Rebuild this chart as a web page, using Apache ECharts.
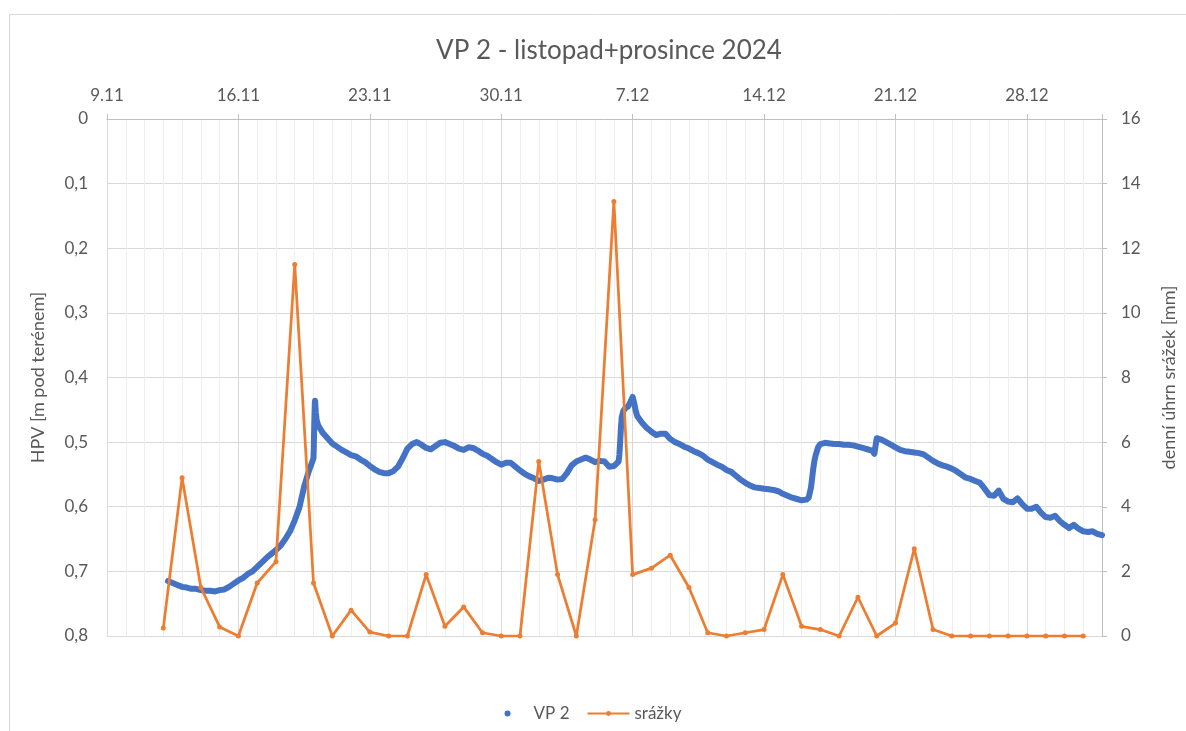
<!DOCTYPE html>
<html>
<head>
<meta charset="utf-8">
<script src="https://cdn.jsdelivr.net/npm/echarts@6/dist/echarts.min.js"></script>
<style>
  html, body { margin: 0; padding: 0; background: #fff; }
  #myChart { width: 1186px; height: 731px; }
</style>
</head>
<body>
<div id="myChart"></div>
<script>
// hladina VP 2 [m pod terénem], čas 'D.M HH:MM'
const vp2Readings = [
  ['12.11 06:00', 0.715], ['12.11 12:00', 0.718], ['12.11 18:00', 0.721],
  ['13.11 00:00', 0.724], ['13.11 06:00', 0.725], ['13.11 12:00', 0.727], ['13.11 18:00', 0.727],
  ['14.11 00:00', 0.729], ['14.11 06:00', 0.730], ['14.11 12:00', 0.730], ['14.11 18:00', 0.731],
  ['15.11 00:00', 0.729], ['15.11 06:00', 0.728], ['15.11 12:00', 0.724], ['15.11 18:00', 0.719],
  ['16.11 00:00', 0.714], ['16.11 06:00', 0.710], ['16.11 12:00', 0.704], ['16.11 18:00', 0.700],
  ['17.11 00:00', 0.693], ['17.11 06:00', 0.686], ['17.11 12:00', 0.679], ['17.11 18:00', 0.673],
  ['18.11 00:00', 0.667], ['18.11 06:00', 0.660], ['18.11 12:00', 0.650], ['18.11 18:00', 0.638],
  ['19.11 00:00', 0.621], ['19.11 06:00', 0.601], ['19.11 12:00', 0.569], ['19.11 18:00', 0.545],
  ['20.11 00:00', 0.525], ['20.11 00:20', 0.510], ['20.11 00:40', 0.490], ['20.11 01:00', 0.470],
  ['20.11 01:20', 0.455], ['20.11 01:40', 0.440], ['20.11 02:00', 0.436], ['20.11 02:30', 0.445],
  ['20.11 03:00', 0.455], ['20.11 04:00', 0.466], ['20.11 06:00', 0.474], ['20.11 09:00', 0.480],
  ['20.11 12:00', 0.486], ['20.11 18:00', 0.494],
  ['21.11 00:00', 0.502], ['21.11 06:00', 0.507], ['21.11 12:00', 0.512], ['21.11 18:00', 0.516],
  ['22.11 00:00', 0.520], ['22.11 06:00', 0.522], ['22.11 12:00', 0.527], ['22.11 18:00', 0.531],
  ['23.11 00:00', 0.537], ['23.11 06:00', 0.542], ['23.11 12:00', 0.546], ['23.11 18:00', 0.548],
  ['24.11 00:00', 0.548], ['24.11 06:00', 0.545], ['24.11 12:00', 0.538], ['24.11 18:00', 0.525],
  ['25.11 00:00', 0.510], ['25.11 06:00', 0.503], ['25.11 12:00', 0.500], ['25.11 18:00', 0.504],
  ['26.11 00:00', 0.509], ['26.11 06:00', 0.511], ['26.11 12:00', 0.506], ['26.11 18:00', 0.501],
  ['27.11 00:00', 0.500], ['27.11 06:00', 0.503], ['27.11 12:00', 0.506], ['27.11 18:00', 0.510],
  ['28.11 00:00', 0.512], ['28.11 06:00', 0.508], ['28.11 12:00', 0.509], ['28.11 18:00', 0.513],
  ['29.11 00:00', 0.518], ['29.11 06:00', 0.521], ['29.11 12:00', 0.526], ['29.11 18:00', 0.531],
  ['30.11 00:00', 0.535], ['30.11 06:00', 0.532], ['30.11 12:00', 0.532], ['30.11 18:00', 0.538],
  ['1.12 00:00', 0.544], ['1.12 06:00', 0.549], ['1.12 12:00', 0.553], ['1.12 18:00', 0.556],
  ['2.12 00:00', 0.560], ['2.12 06:00', 0.558], ['2.12 12:00', 0.555], ['2.12 18:00', 0.556],
  ['3.12 00:00', 0.558], ['3.12 06:00', 0.557], ['3.12 12:00', 0.548], ['3.12 18:00', 0.536],
  ['4.12 00:00', 0.530], ['4.12 06:00', 0.527], ['4.12 12:00', 0.524], ['4.12 18:00', 0.527],
  ['5.12 00:00', 0.531], ['5.12 06:00', 0.529], ['5.12 12:00', 0.530], ['5.12 18:00', 0.538],
  ['6.12 00:00', 0.537], ['6.12 06:00', 0.530], ['6.12 07:00', 0.520], ['6.12 08:00', 0.500],
  ['6.12 09:00', 0.478], ['6.12 10:00', 0.462], ['6.12 12:00', 0.452], ['6.12 15:00', 0.447],
  ['6.12 18:00', 0.445], ['6.12 21:00', 0.438], ['7.12 00:00', 0.430], ['7.12 02:00', 0.440],
  ['7.12 04:00', 0.452], ['7.12 06:00', 0.460], ['7.12 12:00', 0.470], ['7.12 18:00', 0.478],
  ['8.12 00:00', 0.484], ['8.12 06:00', 0.489], ['8.12 12:00', 0.487], ['8.12 18:00', 0.487],
  ['9.12 00:00', 0.495], ['9.12 06:00', 0.500], ['9.12 12:00', 0.503], ['9.12 18:00', 0.507],
  ['10.12 00:00', 0.510], ['10.12 06:00', 0.514], ['10.12 12:00', 0.517], ['10.12 18:00', 0.521],
  ['11.12 00:00', 0.527], ['11.12 06:00', 0.531], ['11.12 12:00', 0.535], ['11.12 18:00', 0.538],
  ['12.12 00:00', 0.543], ['12.12 06:00', 0.546], ['12.12 12:00', 0.552], ['12.12 18:00', 0.558],
  ['13.12 00:00', 0.563], ['13.12 06:00', 0.567], ['13.12 12:00', 0.570], ['13.12 18:00', 0.571],
  ['14.12 00:00', 0.572], ['14.12 06:00', 0.573], ['14.12 12:00', 0.574], ['14.12 18:00', 0.576],
  ['15.12 00:00', 0.580], ['15.12 06:00', 0.583], ['15.12 12:00', 0.586], ['15.12 18:00', 0.588],
  ['16.12 00:00', 0.590], ['16.12 06:00', 0.589], ['16.12 09:00', 0.586], ['16.12 10:30', 0.578],
  ['16.12 12:00', 0.570], ['16.12 13:30', 0.555], ['16.12 15:00', 0.540], ['16.12 16:30', 0.528],
  ['16.12 18:00', 0.520], ['16.12 21:00', 0.508],
  ['17.12 00:00', 0.503], ['17.12 06:00', 0.501], ['17.12 12:00', 0.502], ['17.12 18:00', 0.503],
  ['18.12 00:00', 0.503], ['18.12 06:00', 0.504], ['18.12 12:00', 0.504], ['18.12 18:00', 0.505],
  ['19.12 00:00', 0.507], ['19.12 06:00', 0.509], ['19.12 12:00', 0.511], ['19.12 18:00', 0.513],
  ['19.12 21:00', 0.518],
  ['20.12 00:00', 0.494], ['20.12 06:00', 0.496], ['20.12 12:00', 0.500], ['20.12 18:00', 0.504],
  ['21.12 00:00', 0.508], ['21.12 06:00', 0.512], ['21.12 12:00', 0.514], ['21.12 18:00', 0.515],
  ['22.12 00:00', 0.516], ['22.12 06:00', 0.517], ['22.12 12:00', 0.519], ['22.12 18:00', 0.524],
  ['23.12 00:00', 0.529], ['23.12 06:00', 0.533], ['23.12 12:00', 0.536], ['23.12 18:00', 0.538],
  ['24.12 00:00', 0.541], ['24.12 06:00', 0.545], ['24.12 12:00', 0.550], ['24.12 18:00', 0.555],
  ['25.12 00:00', 0.557], ['25.12 06:00', 0.560], ['25.12 12:00', 0.563], ['25.12 18:00', 0.572],
  ['26.12 00:00', 0.582], ['26.12 06:00', 0.583], ['26.12 12:00', 0.575], ['26.12 18:00', 0.588],
  ['27.12 00:00', 0.592], ['27.12 06:00', 0.593], ['27.12 12:00', 0.587], ['27.12 18:00', 0.596],
  ['28.12 00:00', 0.603], ['28.12 06:00', 0.603], ['28.12 12:00', 0.600], ['28.12 18:00', 0.609],
  ['29.12 00:00', 0.616], ['29.12 06:00', 0.617], ['29.12 12:00', 0.614], ['29.12 18:00', 0.622],
  ['30.12 00:00', 0.628], ['30.12 06:00', 0.633], ['30.12 12:00', 0.628], ['30.12 18:00', 0.634],
  ['31.12 00:00', 0.638], ['31.12 06:00', 0.639], ['31.12 12:00', 0.638], ['31.12 18:00', 0.642],
  ['1.1 00:00', 0.644]
];

// denní srážky [mm]
const rainDates = ['12.11', '13.11', '14.11', '15.11', '16.11', '17.11', '18.11', '19.11', '20.11', '21.11',
  '22.11', '23.11', '24.11', '25.11', '26.11', '27.11', '28.11', '29.11', '30.11', '1.12',
  '2.12', '3.12', '4.12', '5.12', '6.12', '7.12', '8.12', '9.12', '10.12', '11.12',
  '12.12', '13.12', '14.12', '15.12', '16.12', '17.12', '18.12', '19.12', '20.12', '21.12',
  '22.12', '23.12', '24.12', '25.12', '26.12', '27.12', '28.12', '29.12', '30.12', '31.12'];
const rainMm = [0.25, 4.9, 1.5, 0.28, 0, 1.64, 2.3, 11.5, 1.64, 0,
  0.8, 0.12, 0, 0, 1.9, 0.3, 0.9, 0.1, 0, 0,
  5.4, 1.9, 0, 3.6, 13.45, 1.9, 2.1, 2.5, 1.5, 0.1,
  0, 0.1, 0.2, 1.9, 0.3, 0.2, 0, 1.2, 0, 0.4,
  2.7, 0.2, 0, 0, 0, 0, 0, 0, 0, 0];

const levelTicks = [0, 0.1, 0.2, 0.3, 0.4, 0.5, 0.6, 0.7, 0.8];
const rainTicks = [0, 2, 4, 6, 8, 10, 12, 14, 16];

const textColor = '#595959';
const font = 'Lato, "Open Sans", sans-serif';
const dayMs = 86400000;
const origin = Date.UTC(2024, 10, 9);

// 'D.M HH:MM' -> dny od 9.11.2024
function toDay(s) {
  const parts = s.split(' ');
  const dm = parts[0].split('.').map(Number);
  const hm = (parts[1] || '00:00').split(':').map(Number);
  const year = dm[1] < 6 ? 2025 : 2024;
  return (Date.UTC(year, dm[1] - 1, dm[0], hm[0], hm[1] || 0) - origin) / dayMs;
}

function dayLabel(v) {
  const d = new Date(origin + v * dayMs);
  return d.getUTCDate() + '.' + (d.getUTCMonth() + 1);
}

const myChart = echarts.init(document.getElementById('myChart'));

myChart.setOption({
  animation: false,
  backgroundColor: '#fff',
  textStyle: { fontFamily: font },
  graphic: [{
    type: 'rect',
    shape: { x: 9.5, y: 14.5, width: 1300, height: 900 },
    style: { fill: 'none', stroke: '#d9d9d9', lineWidth: 1 },
    silent: true
  }],
  title: {
    text: 'VP 2 - listopad+prosince 2024',
    left: 604,
    textAlign: 'center',
    top: 33,
    textStyle: { color: textColor, fontSize: 26, fontWeight: 'normal', fontFamily: font }
  },
  legend: {
    top: 700,
    left: 'center',
    itemGap: 17,
    itemWidth: 42,
    itemHeight: 6,
    textStyle: { color: textColor, fontSize: 17, fontFamily: font },
    data: [
      { name: 'VP 2', icon: 'circle' },
      { name: 'srážky' }
    ]
  },
  grid: { left: 107, right: 81, top: 119, bottom: 95 },
  xAxis: {
    type: 'value',
    position: 'top',
    min: 0,
    max: 53,
    interval: 7,
    axisLine: { show: true, lineStyle: { color: '#bfbfbf', width: 1 } },
    axisTick: { show: true, length: 5, lineStyle: { color: '#bfbfbf' } },
    axisLabel: {
      color: textColor, fontSize: 17, margin: 15, fontFamily: font,
      formatter: function (v) { return v % 7 === 0 && v < 53 ? dayLabel(v) : ''; }
    },
    splitLine: { show: true, lineStyle: { color: '#d9d9d9', width: 1 } },
    minorTick: { show: false, splitNumber: 7 },
    minorSplitLine: { show: true, lineStyle: { color: '#efefef', width: 1 } }
  },
  yAxis: [
    {
      type: 'value',
      inverse: true,
      min: levelTicks[0],
      max: levelTicks[levelTicks.length - 1],
      interval: 0.1,
      name: 'HPV [m pod terénem]',
      nameLocation: 'middle',
      nameRotate: 90,
      nameGap: 60,
      nameTextStyle: { color: textColor, fontSize: 18, fontFamily: font },
      axisLine: { show: true, lineStyle: { color: '#d9d9d9' } },
      axisTick: { show: false },
      axisLabel: {
        color: textColor, fontSize: 17, margin: 19, fontFamily: font,
        formatter: function (v) { return v === 0 ? '0' : v.toFixed(1).replace('.', ','); }
      },
      splitLine: { show: true, lineStyle: { color: '#d9d9d9', width: 1 } }
    },
    {
      type: 'value',
      min: rainTicks[0],
      max: rainTicks[rainTicks.length - 1],
      interval: 2,
      name: 'denní úhrn srážek [mm]',
      nameLocation: 'middle',
      nameRotate: 90,
      nameGap: 58,
      nameTextStyle: { color: textColor, fontSize: 18, fontFamily: font },
      axisLine: { show: true, lineStyle: { color: '#bfbfbf' } },
      axisTick: { show: true, length: 5, lineStyle: { color: '#bfbfbf' } },
      axisLabel: { color: textColor, fontSize: 17, margin: 19, fontFamily: font },
      splitLine: { show: false }
    }
  ],
  series: [
    {
      name: 'VP 2',
      type: 'line',
      yAxisIndex: 0,
      showSymbol: false,
      symbol: 'circle',
      lineStyle: { color: '#4472C4', width: 6, cap: 'round', join: 'round' },
      itemStyle: { color: '#4472C4' },
      data: vp2Readings.map(function (r) { return [toDay(r[0]), r[1]]; })
    },
    {
      name: 'srážky',
      type: 'line',
      yAxisIndex: 1,
      symbol: 'circle',
      symbolSize: 5,
      showAllSymbol: true,
      lineStyle: { color: '#ED7D31', width: 2.75 },
      itemStyle: { color: '#ED7D31' },
      data: rainDates.map(function (d, i) { return [toDay(d), rainMm[i]]; })
    }
  ]
});
</script>
</body>
</html>
